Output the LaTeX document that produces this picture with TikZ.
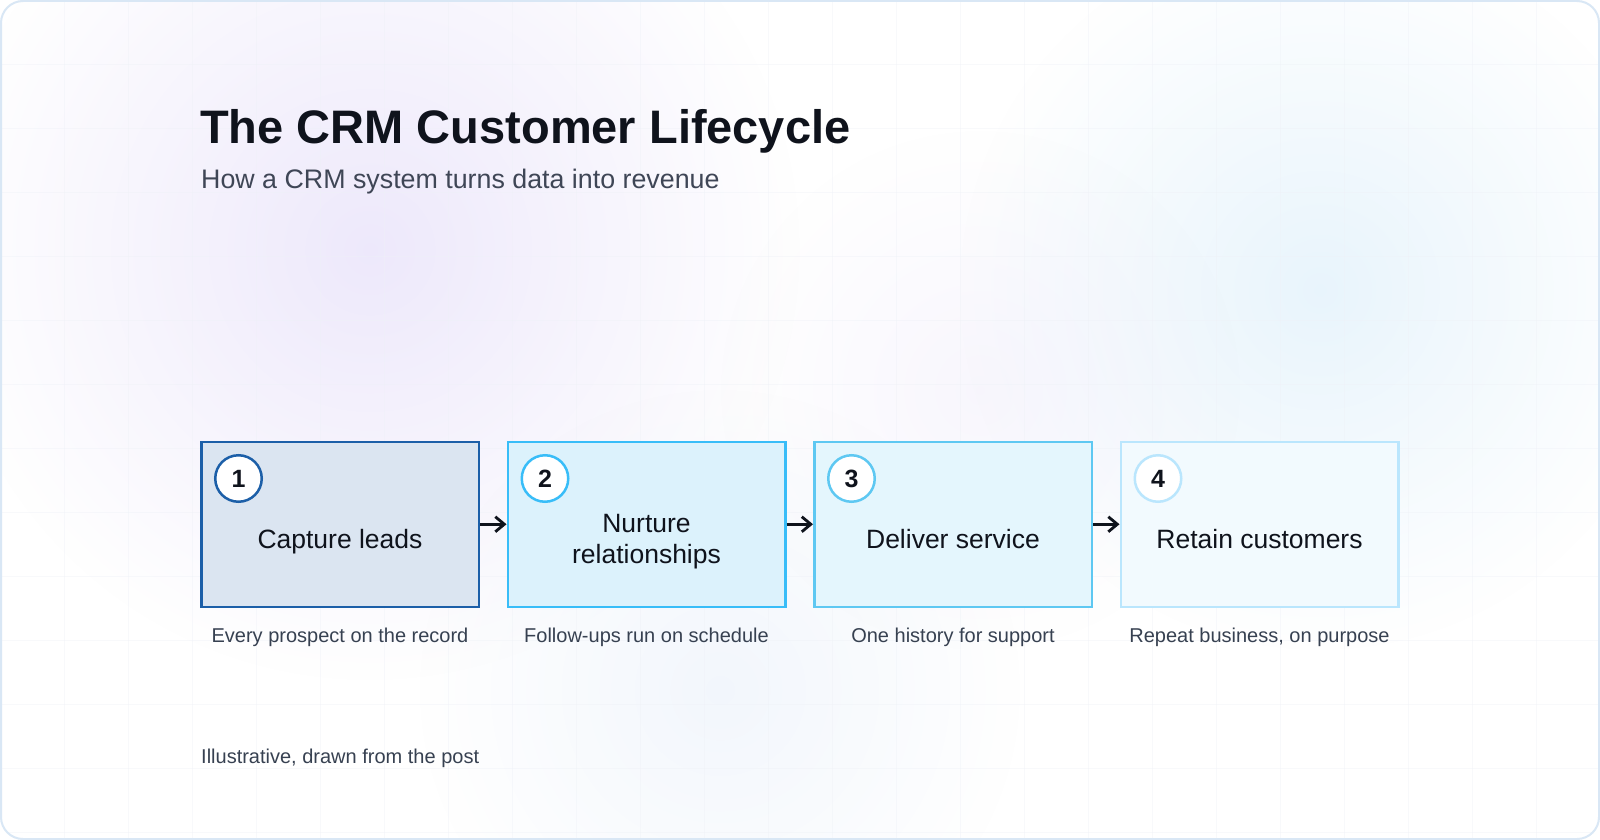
\documentclass[tikz,border=0pt]{standalone}
\usepackage{fontspec}
\setmainfont{Liberation Sans}
\usetikzlibrary{arrows.meta,fadings}
\tikzfading[name=blobfade, inner color=transparent!0, outer color=transparent!100]
\definecolor{ink}{HTML}{0F131C}
\definecolor{subgray}{HTML}{3F4656}
\definecolor{capgray}{HTML}{374151}
\definecolor{cardline}{HTML}{D9E7F5}
\definecolor{gridc}{HTML}{EEF1F7}
\definecolor{bA}{HTML}{1C5FA8}\definecolor{fA}{HTML}{DBE5F1}
\definecolor{bB}{HTML}{38BDF8}\definecolor{fB}{HTML}{DCF2FC}
\definecolor{bC}{HTML}{5EC8F2}\definecolor{fC}{HTML}{E4F6FD}
\definecolor{bD}{HTML}{BAE6FD}\definecolor{fD}{HTML}{F2FAFE}
\definecolor{lav}{HTML}{E9E3FA}
\definecolor{sky}{HTML}{DFF0FB}
\definecolor{mist}{HTML}{EAF1FB}
\begin{document}
\begin{tikzpicture}[x=1pt,y=-1pt,
  stepbox/.style={line width=2.5pt, minimum width=277.5pt, minimum height=165pt, anchor=north west, inner sep=0pt},
  numdot/.style={circle, fill=white, line width=2.5pt, minimum size=46.5pt, inner sep=0pt, font=\fontsize{25}{30}\selectfont\bfseries, text=ink},
  lbl/.style={font=\fontsize{26.5}{32}\selectfont, text=ink, align=center, anchor=base, inner sep=0pt},
  captxt/.style={font=\fontsize{20}{24}\selectfont, text=capgray, anchor=base, inner sep=0pt},
  flow/.style={draw=ink, line width=2.8pt, -{Straight Barb[length=9pt,width=15pt]}}
]
\useasboundingbox (0,0) rectangle (1600,840);
\fill[white] (0,0) rectangle (1600,840);
% card background with blobs and grid
\begin{scope}
  \clip[rounded corners=22pt] (1,1) rectangle (1599,839);
  \fill[lav, path fading=blobfade, opacity=0.8] (370,250) circle (430);
  \fill[sky, path fading=blobfade, opacity=0.7] (1320,290) circle (360);
  \fill[mist, path fading=blobfade, opacity=0.6] (720,690) circle (300);
  \fill[lav, path fading=blobfade, opacity=0.3] (980,390) circle (260);
  \foreach \gx in {64,128,...,1600} \draw[gridc, line width=0.8pt, opacity=0.4] (\gx,0) -- (\gx,840);
  \foreach \gy in {64,128,...,840} \draw[gridc, line width=0.8pt, opacity=0.4] (0,\gy) -- (1600,\gy);
\end{scope}
\draw[cardline, line width=2pt, rounded corners=22pt] (1,1) rectangle (1599,839);
% title
\node[anchor=base west, inner sep=0pt, font=\fontsize{47}{56}\selectfont\bfseries, text=ink] (title) at (200,143) {The CRM Customer Lifecycle};
\node[anchor=base west, inner sep=0pt, font=\fontsize{26.8}{32}\selectfont, text=subgray] (subtitle) at (201,188) {How a CRM system turns data into revenue};
% boxes
\node[stepbox, draw=bA, fill=fA] (s1) at (200,440.5) {};
\node[stepbox, draw=bB, fill=fB] (s2) at (506.5,440.5) {};
\node[stepbox, draw=bC, fill=fC] (s3) at (813,440.5) {};
\node[stepbox, draw=bD, fill=fD] (s4) at (1119.5,440.5) {};
% number badges
\node[numdot, draw=bA] (n1) at (238.5,478.5) {1};
\node[numdot, draw=bB] (n2) at (545,478.5) {2};
\node[numdot, draw=bC] (n3) at (851.5,478.5) {3};
\node[numdot, draw=bD] (n4) at (1158,478.5) {4};
% labels
\node[lbl] (l1) at (340,548) {Capture leads};
\node[lbl] (l2a) at (646.5,532) {Nurture};
\node[lbl] (l2b) at (646.5,563) {relationships};
\node[lbl] (l3) at (953,548) {Deliver service};
\node[lbl] (l4) at (1259.5,548) {Retain customers};
% captions
\node[captxt] (c1) at (340,642) {Every prospect on the record};
\node[captxt] (c2) at (646.5,642) {Follow-ups run on schedule};
\node[captxt] (c3) at (953,642) {One history for support};
\node[captxt] (c4) at (1259.5,642) {Repeat business, on purpose};
% arrows
\draw[flow] (s1.east) -- (s2.west);
\draw[flow] (s2.east) -- (s3.west);
\draw[flow] (s3.east) -- (s4.west);
% footer
\node[anchor=base west, inner sep=0pt, font=\fontsize{20}{24}\selectfont, text=capgray] (foot) at (201,763) {Illustrative, drawn from the post};
\end{tikzpicture}
\end{document}
